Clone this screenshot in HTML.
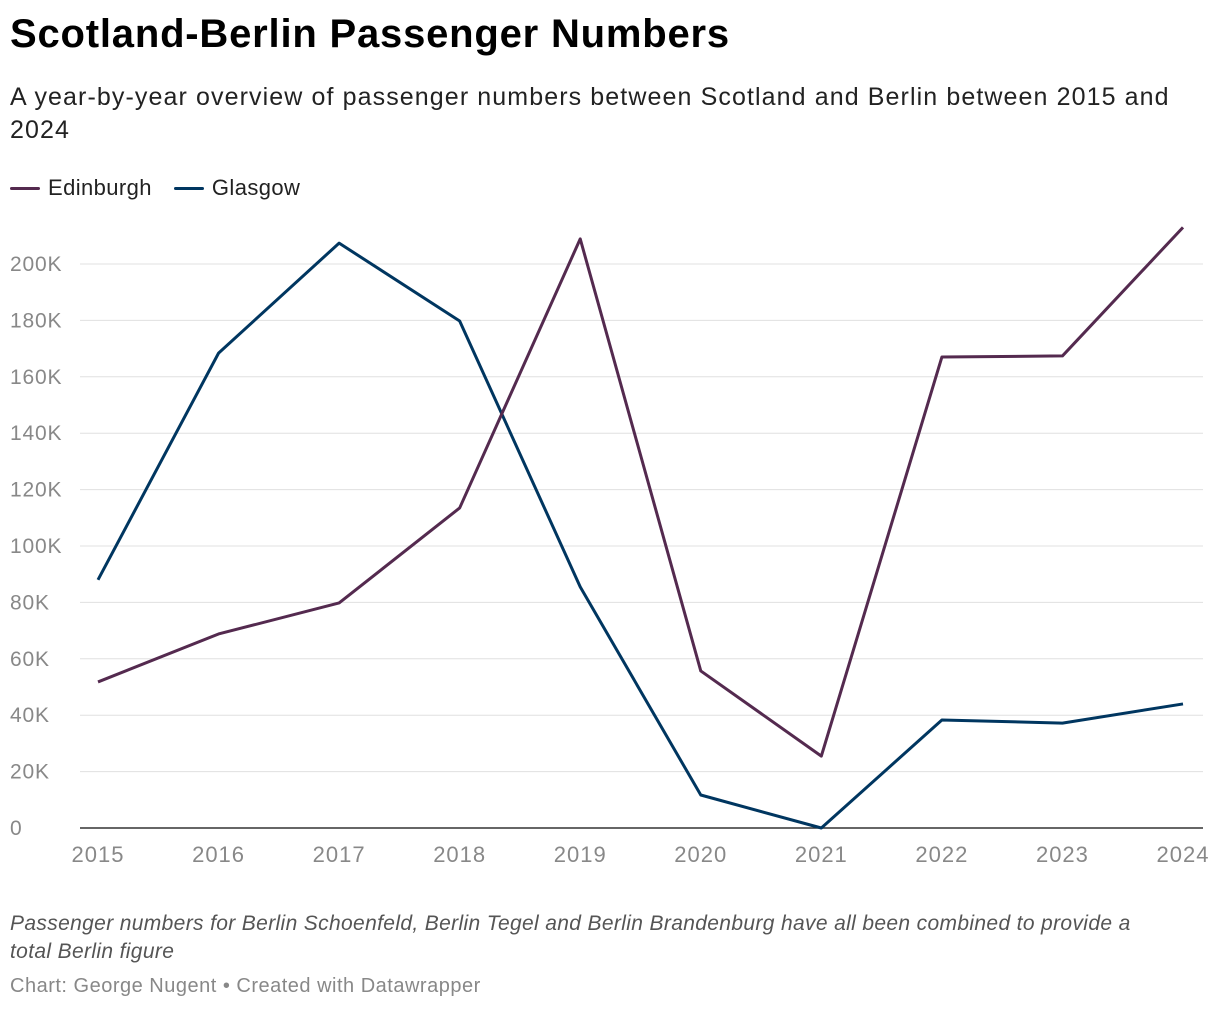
<!DOCTYPE html>
<html><head><meta charset="utf-8">
<style>
body{margin:0;width:1220px;height:1010px;background:#fff;font-family:"Liberation Sans",Roboto,sans-serif;overflow:hidden;position:relative}
.t{position:absolute;left:10px;margin:0}
h1{top:12px;font-size:40px;font-weight:bold;color:#000;letter-spacing:0.8px}
.sub{top:81px;font-size:25px;color:#222;line-height:33px;width:1200px;letter-spacing:1.1px}
.leg{top:175px;font-size:22px;color:#222;display:flex;gap:22px;letter-spacing:0.4px}
.leg span{display:flex;align-items:center}
.leg i{display:inline-block;width:30px;height:3px;margin-right:8px;border-radius:2px}
.note{top:910px;font-size:21px;font-style:italic;color:#555;line-height:28px;width:1165px;letter-spacing:0.35px}
.cred{top:975px;font-size:20px;color:#888;letter-spacing:0.5px}
svg{position:absolute;left:0;top:0}
</style></head><body>
<h1 class="t">Scotland-Berlin Passenger Numbers</h1>
<p class="t sub">A year-by-year overview of passenger numbers between Scotland and Berlin between 2015 and 2024</p>
<div class="t leg">
<span><i style="background:#542a4f"></i>Edinburgh</span>
<span><i style="background:#003660"></i>Glasgow</span>
</div>
<svg id="chart" width="1220" height="1010"></svg>
<p class="t note">Passenger numbers for Berlin Schoenfeld, Berlin Tegel and Berlin Brandenburg have all been combined to provide a total Berlin figure</p>
<p class="t cred">Chart: George Nugent • Created with Datawrapper</p>
<script>
const years=["2015","2016","2017","2018","2019","2020","2021","2022","2023","2024"];
const edinburgh=[51800,68800,79800,113500,208900,55700,25500,167000,167400,213000];
const glasgow=[88000,168400,207400,179800,85500,11700,0,38300,37200,44000];
const yTicks=[0,20000,40000,60000,80000,100000,120000,140000,160000,180000,200000];
const yTickLabels=["0","20K","40K","60K","80K","100K","120K","140K","160K","180K","200K"];
const NS="http://www.w3.org/2000/svg";
const svg=document.getElementById('chart');
const x=i=>98+i*(1183-98)/(years.length-1);
const y=v=>828-v*(828-264)/200000;
function mk(t,a){const e=document.createElementNS(NS,t);for(const k in a)e.setAttribute(k,a[k]);svg.appendChild(e);return e;}
yTicks.forEach((v,i)=>{
 if(v>0){const g=mk('line',{x1:80,x2:1203,y1:y(v),y2:y(v),stroke:'#e0e0e0','stroke-width':1});
 
 }
 const t=mk('text',{x:10,y:y(v)+7,'font-size':21,fill:'#888','letter-spacing':'0.8','font-family':'Liberation Sans, sans-serif'});
 t.textContent=yTickLabels[i];
 
 
});
const base=mk('line',{x1:80,x2:1203,y1:y(0),y2:y(0),stroke:'#333','stroke-width':1.5});


years.forEach((yr,i)=>{
 const t=mk('text',{x:x(i),y:862,'font-size':22,fill:'#888','letter-spacing':'1','text-anchor':'middle','font-family':'Liberation Sans, sans-serif'});
 t.textContent=yr;
 
 
});
function line(data,color,name){
 const p=mk('polyline',{points:data.map((v,i)=>x(i)+','+y(v)).join(' '),fill:'none',stroke:color,'stroke-width':3,'stroke-linejoin':'round'});
 
 
}
line(glasgow,'#003660','glasgow-line');
line(edinburgh,'#542a4f','edinburgh-line');
</script>
</body></html>
